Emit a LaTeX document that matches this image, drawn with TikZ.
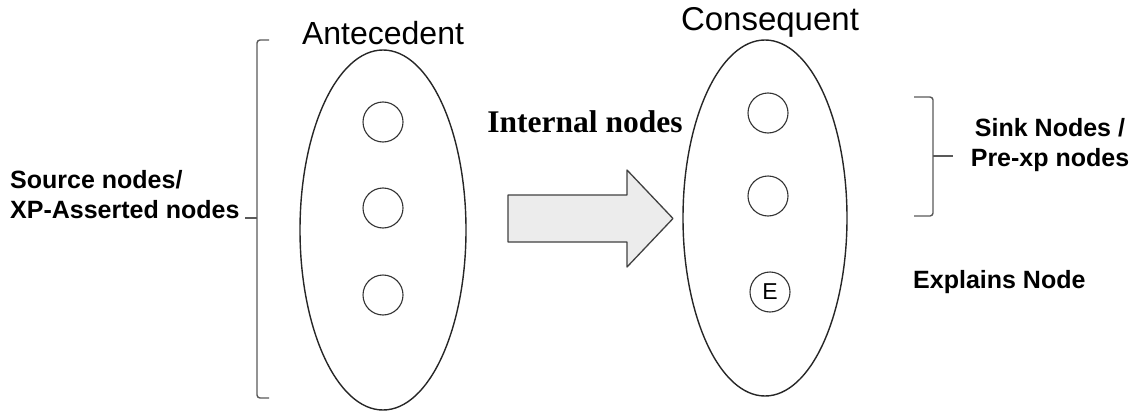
\documentclass[tikz,border=0pt]{standalone}
\usepackage{fontspec}
\setmainfont{Liberation Serif}
\setsansfont{Liberation Sans}
\usetikzlibrary{shapes.geometric}
\begin{document}
\begin{tikzpicture}[x=1pt,y=-1pt,
  bigell/.style={draw=black!85,line width=1.4pt,shape=ellipse,inner sep=0pt},
  smallc/.style={draw=black!80,line width=1.1pt,circle,minimum size=40pt,inner sep=0pt},
  title/.style={font=\sffamily\fontsize{32}{36}\selectfont,inner sep=0pt},
  lab/.style={font=\sffamily\bfseries\fontsize{25}{30}\selectfont,inner sep=0pt},
  brace/.style={draw=black!65,line width=1.4pt,rounded corners=3pt},
  bigarrow/.style={draw=black!75,fill=gray!15,line width=1.3pt,line join=round}]
\useasboundingbox (0,0) rectangle (1145,412);
\node[bigell,minimum width=166pt,minimum height=360pt] (ante) at (383,230) {};
\node[bigell,minimum width=164pt,minimum height=356pt] (cons) at (765,218) {};
\node[smallc] (a1) at (383,122) {};
\node[smallc] (a2) at (383,208) {};
\node[smallc] (a3) at (383,295) {};
\node[smallc] (c1) at (768,113) {};
\node[smallc] (c2) at (768,196) {};
\node[smallc,font=\sffamily\fontsize{23}{26}\selectfont] (c3) at (770,292) {E};
\node[title] (ant) at (383,33) {Antecedent};
\node[title,font=\sffamily\fontsize{33}{36}\selectfont] (con) at (770,22) {Consequent};
\node[font=\rmfamily\bfseries\fontsize{31.5}{36}\selectfont,inner sep=0pt] (int) at (585,122) {Internal nodes};
\draw[bigarrow] (508,195) -- (627,195) -- (627,170) -- (673,218.5) -- (627,267) -- (627,242) -- (508,242) -- cycle;
\draw[brace] (269,40) -- (257,40) -- (257,218) -- (257,398) -- (269,398);
\draw[draw=black!65,line width=1.4pt] (257,218) -- (245,218);
\draw[brace] (914,97) -- (933,97) -- (933,216) -- (914,216);
\draw[draw=black!65,line width=1.4pt] (933,156) -- (953,156);
\node[lab,align=left,anchor=west] (src) at (10,195) {Source nodes/\\XP-Asserted nodes};
\node[lab,align=center] (sink) at (1050,145) {Sink Nodes /\\Pre-xp nodes};
\node[lab,anchor=west] (exp) at (913,282) {Explains Node};
\end{tikzpicture}
\end{document}
